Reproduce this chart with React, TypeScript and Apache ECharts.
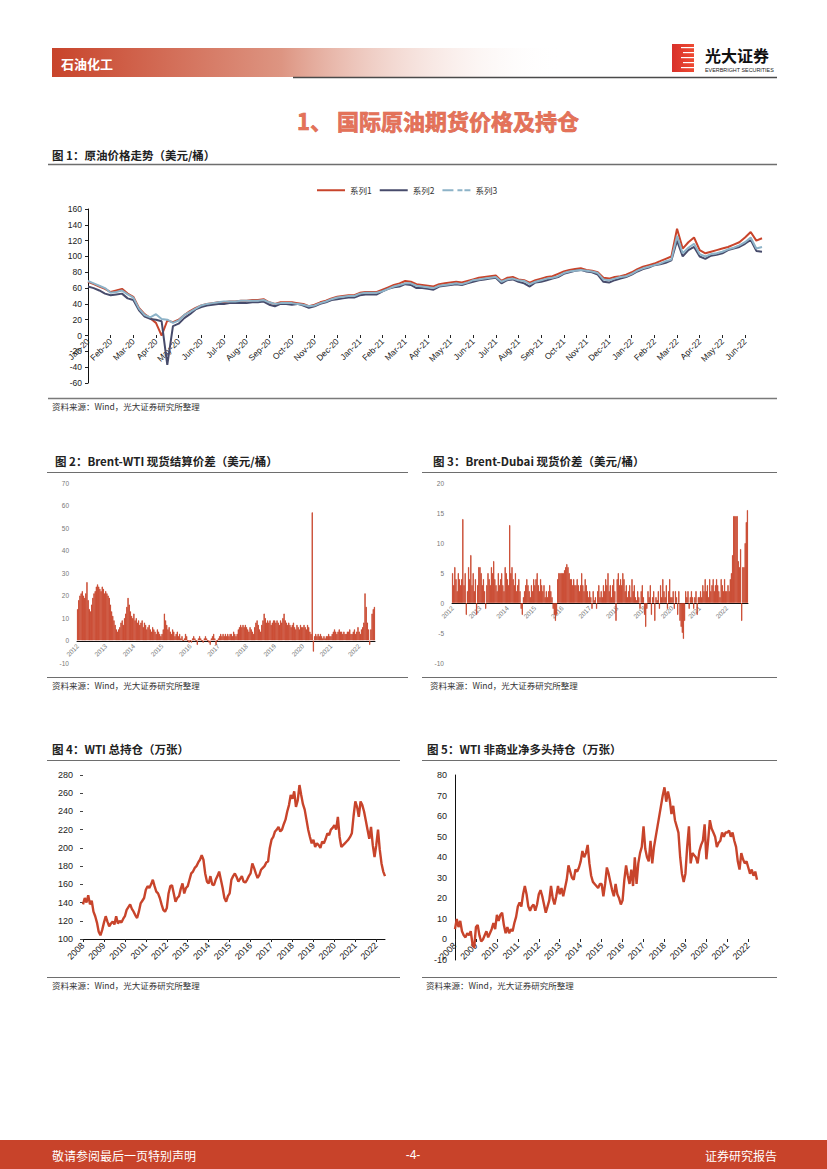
import React, { useEffect, useRef } from 'react';
import * as echarts from 'echarts';

const RED = '#c8442b';
const NAVY = '#474b6b';
const LIGHT = '#8db3c8';
const CJK = '"Noto Sans CJK SC", "Noto Sans", sans-serif';
const NUM = '"Liberation Sans", Arial, sans-serif';

// ---------- Chart 1: crude price (weekly points, 4 per month) ----------
const c1Months = [
  'Jan-20', 'Feb-20', 'Mar-20', 'Apr-20', 'May-20', 'Jun-20', 'Jul-20', 'Aug-20', 'Sep-20', 'Oct-20', 'Nov-20', 'Dec-20',
  'Jan-21', 'Feb-21', 'Mar-21', 'Apr-21', 'May-21', 'Jun-21', 'Jul-21', 'Aug-21', 'Sep-21', 'Oct-21', 'Nov-21', 'Dec-21',
  'Jan-22', 'Feb-22', 'Mar-22', 'Apr-22', 'May-22', 'Jun-22',
];
const c1Names = ['系列1', '系列2', '系列3'];
const c1Series1 = [
  68, 65, 62, 59, 55, 57, 59, 53, 49, 35, 27, 22, 16, 0, 19, 17, 20, 26, 31, 35, 38, 40, 41, 42,
  42, 43, 43, 44, 44, 45, 45, 46, 42, 40, 42, 42, 42, 41, 40, 37, 39, 42, 44, 47, 49, 50, 51, 51,
  54, 55, 55, 55, 58, 61, 64, 66, 69, 68, 65, 64, 63, 62, 65, 66, 67, 68, 67, 69, 71, 73, 74, 75,
  76, 69, 73, 74, 71, 70, 67, 70, 72, 74, 75, 78, 81, 83, 84, 85, 83, 82, 80, 73, 72, 74, 75, 77,
  80, 84, 87, 89, 91, 94, 97, 100, 135, 110, 118, 124, 108, 104, 106, 108, 110, 112, 115, 118, 124, 131, 120, 123,
];
const c1Series2 = [
  62, 60, 57, 53, 51, 52, 53, 47, 45, 32, 24, 21, 20, 18, -37, 12, 15, 22, 27, 33, 36, 38, 39, 40,
  40, 41, 41, 41, 41, 42, 42, 43, 39, 37, 40, 40, 39, 40, 38, 35, 37, 40, 42, 45, 46, 47, 48, 48,
  51, 52, 52, 52, 56, 59, 61, 62, 65, 64, 60, 60, 59, 58, 62, 63, 64, 65, 64, 66, 68, 70, 71, 72,
  73, 66, 70, 71, 68, 66, 62, 67, 68, 70, 72, 74, 78, 80, 82, 83, 81, 80, 77, 68, 67, 70, 72, 74,
  77, 81, 84, 86, 89, 90, 92, 95, 120, 100, 108, 112, 100, 97, 101, 102, 104, 108, 110, 112, 116, 121, 107, 106,
];
const c1Series3 = [
  69, 66, 63, 60, 54, 55, 57, 52, 48, 34, 26, 23, 27, 21, 20, 16, 19, 26, 30, 34, 38, 40, 41, 42,
  43, 43, 43, 44, 44, 44, 44, 45, 42, 40, 41, 41, 41, 40, 39, 37, 38, 41, 43, 46, 48, 49, 50, 50,
  53, 54, 54, 54, 56, 59, 62, 64, 66, 66, 63, 62, 61, 60, 63, 64, 65, 66, 65, 67, 70, 71, 72, 73,
  74, 68, 71, 72, 70, 69, 65, 68, 70, 72, 73, 75, 79, 81, 82, 83, 82, 81, 79, 71, 70, 72, 74, 75,
  78, 82, 85, 87, 89, 91, 94, 96, 126, 104, 111, 116, 103, 100, 103, 104, 106, 109, 111, 114, 118, 124, 110, 112,
];

// ---------- Chart 2: Brent-WTI spread (semi-monthly) ----------
const c23Years = ['2012', '2013', '2014', '2015', '2016', '2017', '2018', '2019', '2020', '2021', '2022'];
const c2Values = [
  14, 18, 20, 21, 22, 20, 19, 21, 26, 18, 14, 13, 16, 19, 21, 22, 24, 25, 24, 23, 22, 24, 23, 21,
  22, 21, 20, 19, 16, 13, 11, 9, 7, 5, 4, 5, 6, 8, 9, 7, 10, 12, 15, 19, 16, 13, 11, 10,
  12, 9, 10, 8, 9, 7, 8, 9, 6, 8, 7, 5, 6, 7, 5, 4, 6, 5, 4, 3, 5, 4, 3, 2,
  3, 5, 12, 9, 7, 5, 6, 4, 3, 5, 4, 2, 3, 4, 2, 3, 1, 2, 0, 1, 3, 2, 0, -1,
  0, -1, 1, 2, 1, 0, -2, 1, 2, 1, 0, -1, 1, 2, 1, 0, -1, -2, 1, 2, 3, 1, -2, 0,
  1, 2, 3, 2, 3, 2, 3, 2, 3, 2, 3, 3, 2, 4, 3, 2, 3, 5, 6, 7, 6, 7, 6, 7,
  6, 5, 4, 6, 5, 4, 3, 6, 8, 9, 7, 5, 4, 7, 9, 12, 10, 8, 9, 8, 9, 7, 8, 9,
  9, 8, 9, 8, 7, 9, 8, 10, 12, 9, 8, 7, 8, 7, 6, 7, 8, 6, 5, 7, 6, 5, 7, 6,
  6, 7, 6, 5, 7, 6, 4, 3, 57, -5, 2, 3, 2, 3, 2, 3, 2, 1, 2, 1, 2, 2, 3, 2,
  2, 3, 4, 5, 4, 3, 4, 5, 4, 4, 3, 4, 3, 3, 4, 4, 5, 3, 3, 4, 5, 3, 4, 6,
  4, 3, 5, 6, 8, 21, 15, 8, 5, -2, 5, 12, 14, 15,
];

// ---------- Chart 3: Brent-Dubai spread (semi-monthly) ----------
const c3Values = [
  5, 3, 6, 4, 2, 5, 4, 3, 4, 14, 3, 5, -2, 2, 6, 4, 8, 3, 5, 2, 4, -2, 3, 6,
  6, 5, 3, 4, 2, -1, 3, 5, 4, 3, 6, 5, 7, 4, 3, 2, 5, 3, 4, 5, 3, 2, 6, 5,
  4, 3, 13, 5, 6, 4, 3, 5, 2, 3, 4, 2, -1, -2, 1, 2, 3, 4, 3, 2, 1, 3, 2, 4,
  3, 4, 5, 3, 2, 4, 3, 2, 3, 1, 2, 1, 2, 3, 2, 1, -1, -2, -3, -2, 4, 5, 5, 5,
  5, 5, 5.5, 6, 6.5, 6, 5, 4, 4, 3, 4, 3, 3, 4, 3, 2, 3, 5, 3, 2, 4, 3, 2, 1,
  2, 1, -1, 2, 0.5, 1, -1, 2, 3, 1, 2, 1, 3, 2, 4, 3, 5, 2, 3, 1, 3, 4, 2, -3,
  4, 5, 3, 4, 3, 5, 4, 2, 3, 1, 2, 3, 1, 4, 2, 3, 1, 0.5, 2, 1, -1, 2, 3, 1,
  -2, -4, -1, 2, 1, 3, -2, 1, 2, -3, 1, 0.5, 2, -1, 3, 1, 4, 2, 1, 3, -1, 2, 4, 1,
  1, 2, -1, 2, 1, -2, 2, -3, -4, -5, -6, -3, 2, 1, 2, -1, 1, 2, 1, -1, 1, 2, -2, 1,
  1, 2, 1, 3, 2, 4, 2, 3, 1, 4, 2, 3, 4, 2, 3, 4, 3, 2, 1, 4, 3, 2, 4, 2,
  2, 3, 2, 4, 5, 8, 14.5, 14.5, 14.5, 14.5, 7, 6, 9, -3, 6, 6, 10, 13.5, 15.5,
];

// ---------- Chart 4 & 5: WTI open interest (monthly) ----------
const c45Years = ['2008', '2009', '2010', '2011', '2012', '2013', '2014', '2015', '2016', '2017', '2018', '2019', '2020', '2021', '2022'];
const c4Values = [
  138, 145, 140, 148, 138, 142, 130, 125, 118, 108, 104, 110,
  118, 125, 119, 114, 117, 119, 116, 125, 117, 120, 118, 122,
  125, 132, 135, 138, 133, 130, 126, 123, 130, 139, 142, 145,
  154, 158, 156, 160, 165, 158, 152, 150, 145, 138, 132, 130,
  134, 150, 158, 159, 150, 141, 145, 147, 155, 161, 150, 156,
  158, 165, 172, 174, 178, 180, 184, 187, 192, 187, 172, 163,
  161, 169, 160, 159, 165, 169, 174, 165, 156, 145, 141, 147,
  150, 165, 169, 172, 168, 163, 166, 169, 163, 162, 165, 169,
  172, 183, 178, 172, 167, 170, 176, 178, 180, 184, 185, 200,
  209, 212, 218, 220, 223, 218, 220, 226, 231, 240, 247, 258,
  254, 262, 245, 252, 269, 258, 248, 242, 231, 220, 212, 205,
  209, 201, 205, 203, 200, 207, 205, 210, 216, 214, 220, 222,
  225, 220, 234, 212, 201, 203, 205, 207, 209, 212, 216, 235,
  251, 245, 234, 251, 247, 240, 230, 220, 210, 223, 203, 190,
  203, 220, 198, 183, 174, 169,
];
const c5Values = [
  5, 10, 6, 9, 4, 2, 1, 3, 2, 4, -2, -4,
  6, 7, 2, -1, 0, 2, 4, 1, 3, 5, 8, 5,
  12, 9, 12, 13, 7, 3, 6, 3, 5, 4, 8, 11,
  16, 18, 16, 22, 26, 22, 16, 14, 16, 17, 14, 17,
  22, 24, 21, 17, 13, 16, 19, 26, 20, 17, 21, 26,
  22, 25, 21, 25, 29, 36, 33, 30, 29, 34, 33, 35,
  38, 43, 40, 42, 46, 37, 31, 28, 27, 26, 25, 27,
  27, 21, 27, 35, 32, 28, 24, 21, 27, 22, 20, 17,
  19, 29, 36, 31, 27, 34, 26, 40, 27, 37, 42, 45,
  55, 44, 40, 38, 48, 37, 45, 50, 55, 60, 65, 70,
  74, 67, 72, 68, 61, 65, 58, 55, 52, 40, 32, 28,
  32, 45, 55, 37, 42, 41, 40, 37, 43, 46, 48, 56,
  39, 48, 58, 54, 52, 50, 45, 47, 48, 52, 50, 52,
  52, 53, 50, 52, 48, 45, 38, 34, 42, 39, 37, 38,
  35, 32, 34, 31, 33, 29,
];

function buildCats(labels: string[], perGroup: number, total: number): string[] {
  const out: string[] = [];
  for (let i = 0; i < total; i++) {
    const g = Math.floor(i / perGroup);
    out.push(labels[g] + '|' + (i % perGroup));
  }
  return out;
}
const firstPart = (v: string) => String(v).split('|')[0];

const txt = (x: number, y: number, text: string, size: number, opts: any = {}) => ({
  type: 'text',
  x,
  y,
  silent: true,
  style: {
    text,
    fontSize: size,
    fontFamily: opts.family || CJK,
    fontWeight: opts.weight || 'normal',
    fill: opts.fill || '#222',
    align: opts.align || 'left',
    verticalAlign: 'middle',
    stroke: opts.stroke,
    lineWidth: opts.lineWidth,
  },
});
const hline = (x1: number, x2: number, y: number, color = '#6e6e6e', w = 1.2) => ({
  type: 'line',
  silent: true,
  shape: { x1, y1: y, x2, y2: y },
  style: { stroke: color, lineWidth: w },
});

export default function App() {
  const ref = useRef<HTMLDivElement>(null);
  useEffect(() => {
    if (!ref.current) return;
    const chart = echarts.init(ref.current, undefined, { renderer: 'svg' });

    const c1Cats = buildCats(c1Months, 4, c1Series1.length);
    const c2Cats = buildCats(c23Years, 24, c2Values.length);
    const c3Cats = buildCats(c23Years, 24, c3Values.length);
    const c4Cats = buildCats(c45Years, 12, c4Values.length);
    const c5Cats = buildCats(c45Years, 12, c5Values.length);

    const logoStripes: any[] = [];
    [47, 52, 57, 62, 67].forEach((yy, i) => {
      logoStripes.push({
        type: 'rect',
        silent: true,
        shape: { x: 681 + (i % 2) * 2, y: yy, width: 14 - (i % 2) * 2, height: 1.2 },
        style: { fill: '#ffffff' },
      });
    });

    const graphic: any[] = [
      {
        type: 'rect',
        silent: true,
        shape: { x: 52, y: 48, width: 510, height: 29 },
        style: {
          fill: new echarts.graphic.LinearGradient(0, 0, 1, 0, [
            { offset: 0, color: '#c8442b' },
            { offset: 0.45, color: '#dd9582' },
            { offset: 1, color: 'rgba(255,255,255,0)' },
          ]),
        },
      },
      txt(61, 63, '石油化工', 13, { weight: 'bold', fill: '#ffffff' }),
      hline(293, 777, 77.5, '#4a4a4a', 1.5),
      {
        type: 'rect',
        silent: true,
        shape: { x: 672, y: 44, width: 22, height: 28 },
        style: {
          fill: new echarts.graphic.LinearGradient(0, 0, 1, 0, [
            { offset: 0, color: '#d8302a' },
            { offset: 1, color: '#ee4b33' },
          ]),
        },
      },
      ...logoStripes,
      txt(705, 54.5, '光大证券', 16, { weight: 'bold', fill: '#111' }),
      txt(705, 70, 'EVERBRIGHT SECURITIES', 5.4, { family: NUM, fill: '#222' }),
      txt(297, 120, '1、 国际原油期货价格及持仓', 22, { weight: 'bold', fill: '#e47259', stroke: '#d2553a', lineWidth: 0.6 }),
      txt(52, 155, '图 1：原油价格走势（美元/桶）', 11.5, { weight: 'bold', fill: '#222' }),
      hline(48, 777, 164.5, '#6e6e6e', 1.4),
      hline(48, 777, 398.5, '#7a7a7a', 1.4),
      txt(52, 406, '资料来源：Wind，光大证券研究所整理', 8.5, { fill: '#333' }),
      txt(55, 461, '图 2：Brent-WTI 现货结算价差（美元/桶）', 11.5, { weight: 'bold', fill: '#222' }),
      hline(47, 408, 472.5, '#6e6e6e', 1.2),
      hline(47, 408, 677.5, '#6e6e6e', 1.2),
      txt(52, 685, '资料来源：Wind，光大证券研究所整理', 8.5, { fill: '#333' }),
      txt(433, 461, '图 3：Brent-Dubai 现货价差（美元/桶）', 11.5, { weight: 'bold', fill: '#222' }),
      hline(422, 777, 472.5, '#6e6e6e', 1.2),
      hline(422, 777, 677.5, '#6e6e6e', 1.2),
      txt(430, 685, '资料来源：Wind，光大证券研究所整理', 8.5, { fill: '#333' }),
      txt(52, 749, '图 4：WTI 总持仓（万张）', 11.5, { weight: 'bold', fill: '#222' }),
      hline(47, 400, 760.5, '#6e6e6e', 1.2),
      hline(47, 400, 977.5, '#6e6e6e', 1.2),
      txt(52, 985, '资料来源：Wind，光大证券研究所整理', 8.5, { fill: '#333' }),
      txt(427, 749, '图 5：WTI 非商业净多头持仓（万张）', 11.5, { weight: 'bold', fill: '#222' }),
      hline(422, 777, 760.5, '#6e6e6e', 1.2),
      hline(422, 777, 977.5, '#6e6e6e', 1.2),
      txt(426, 985, '资料来源：Wind，光大证券研究所整理', 8.5, { fill: '#333' }),
      {
        type: 'rect',
        silent: true,
        shape: { x: 0, y: 1140, width: 827, height: 29 },
        style: { fill: '#c8432a' },
      },
      txt(52, 1155, '敬请参阅最后一页特别声明', 12, { fill: '#ffffff' }),
      txt(413, 1155, '-4-', 12, { fill: '#ffffff', align: 'center', family: NUM }),
      txt(777, 1155, '证券研究报告', 12, { fill: '#ffffff', align: 'right' }),
    ];

    const smallLabel = { fontFamily: NUM, fontSize: 6.5, color: '#777' };
    const midLabel = { fontFamily: NUM, fontSize: 8.5, color: '#222' };
    const hiddenX = (gridIndex: number, data: string[], boundaryGap = false) => ({
      type: 'category', gridIndex, data, boundaryGap,
      axisLine: { show: false }, axisTick: { show: false }, axisLabel: { show: false },
    });
    const hiddenY = (gridIndex: number) => ({
      type: 'value', gridIndex, min: 0, max: 1, show: false,
    });

    const option: any = {
      animation: false,
      backgroundColor: '#ffffff',
      graphic,
      legend: {
        data: [
          { name: '系列1', icon: 'rect' },
          { name: '系列2', icon: 'rect' },
          { name: '系列3', icon: 'path://M0 0H11V2H0Z M15 0H20V2H15Z M22 0H28V2H22Z' },
        ],
        left: 312,
        top: 181,
        itemWidth: 28,
        itemHeight: 2,
        itemGap: 8,
        textStyle: { fontFamily: CJK, fontSize: 8.5, color: '#333' },
      },
      grid: [
        { left: 88, top: 209, width: 674, height: 174 },
        { left: 77, top: 483, width: 298, height: 180 },
        { left: 452, top: 483, width: 296, height: 180 },
        { left: 83, top: 775, width: 302, height: 164 },
        { left: 455, top: 775, width: 302, height: 185 },
        { left: 88, top: 209, width: 674, height: 126 },
        { left: 77, top: 483, width: 298, height: 158 },
        { left: 452, top: 483, width: 296, height: 120 },
        { left: 455, top: 775, width: 302, height: 164 },
      ],
      xAxis: [
        hiddenX(0, c1Cats),
        hiddenX(1, c2Cats, true),
        hiddenX(2, c3Cats, true),
        {
          type: 'category', gridIndex: 3, data: c4Cats, boundaryGap: false,
          axisLine: { show: true, lineStyle: { color: '#111', width: 1 } },
          axisTick: { show: true, interval: 11, length: 3, lineStyle: { color: '#222' } },
          axisLabel: { ...midLabel, fontSize: 9, interval: 11, rotate: 45, margin: 5, formatter: firstPart },
        },
        hiddenX(4, c5Cats),
        {
          type: 'category', gridIndex: 5, data: c1Cats, boundaryGap: false,
          axisLine: { show: false },
          axisTick: { show: true, interval: 3, length: 3, lineStyle: { color: '#222' } },
          axisLabel: { ...midLabel, interval: 3, rotate: 45, margin: 5, formatter: firstPart },
        },
        {
          type: 'category', gridIndex: 6, data: c2Cats,
          axisLine: { show: true, lineStyle: { color: '#111', width: 1 } },
          axisTick: { show: false },
          axisLabel: { ...smallLabel, interval: 23, rotate: 45, margin: 4, formatter: firstPart },
        },
        {
          type: 'category', gridIndex: 7, data: c3Cats,
          axisLine: { show: true, lineStyle: { color: '#111', width: 1 } },
          axisTick: { show: false },
          axisLabel: { ...smallLabel, interval: 23, rotate: 45, margin: 4, formatter: firstPart },
        },
        {
          type: 'category', gridIndex: 8, data: c5Cats, boundaryGap: false,
          axisLine: { show: false },
          axisTick: { show: true, interval: 11, length: 3, lineStyle: { color: '#222' } },
          axisLabel: { ...midLabel, fontSize: 9, interval: 11, rotate: 45, margin: 5, formatter: firstPart },
        },
      ],
      yAxis: [
        {
          type: 'value', gridIndex: 0, min: -60, max: 160, interval: 20,
          axisLine: { show: true, lineStyle: { color: '#111' } },
          axisTick: { show: true, length: 3, lineStyle: { color: '#222' } },
          splitLine: { show: false },
          axisLabel: { ...midLabel, margin: 6 },
        },
        {
          type: 'value', gridIndex: 1, min: -10, max: 70, interval: 10,
          axisLine: { show: false }, axisTick: { show: false }, splitLine: { show: false },
          axisLabel: { ...smallLabel, margin: 8 },
        },
        {
          type: 'value', gridIndex: 2, min: -10, max: 20, interval: 5,
          axisLine: { show: false }, axisTick: { show: false }, splitLine: { show: false },
          axisLabel: { ...smallLabel, margin: 8 },
        },
        {
          type: 'value', gridIndex: 3, min: 100, max: 280, interval: 20,
          axisLine: { show: false },
          axisTick: { show: true, length: 3, lineStyle: { color: '#444' } },
          splitLine: { show: false },
          axisLabel: { ...midLabel, fontSize: 9, margin: 10 },
        },
        {
          type: 'value', gridIndex: 4, min: -10, max: 80, interval: 10,
          axisLine: { show: true, lineStyle: { color: '#111' } },
          axisTick: { show: false },
          splitLine: { show: false },
          axisLabel: { ...midLabel, fontSize: 9, margin: 8 },
        },
        hiddenY(5),
        hiddenY(6),
        hiddenY(7),
        hiddenY(8),
      ],
      series: [
        {
          name: c1Names[0], type: 'line', xAxisIndex: 0, yAxisIndex: 0, data: c1Series1,
          symbol: 'none', lineStyle: { color: RED, width: 2 }, itemStyle: { color: RED },
        },
        {
          name: c1Names[1], type: 'line', xAxisIndex: 0, yAxisIndex: 0, data: c1Series2,
          symbol: 'none', lineStyle: { color: NAVY, width: 2 }, itemStyle: { color: NAVY },
        },
        {
          name: c1Names[2], type: 'line', xAxisIndex: 0, yAxisIndex: 0, data: c1Series3,
          symbol: 'none', lineStyle: { color: LIGHT, width: 2 }, itemStyle: { color: LIGHT },
        },
        {
          type: 'bar', xAxisIndex: 1, yAxisIndex: 1, data: c2Values,
          barCategoryGap: '0%', itemStyle: { color: RED, borderColor: RED, borderWidth: 0.8 },
        },
        {
          type: 'bar', xAxisIndex: 2, yAxisIndex: 2, data: c3Values,
          barCategoryGap: '0%', itemStyle: { color: RED, borderColor: RED, borderWidth: 0.8 },
        },
        {
          type: 'line', xAxisIndex: 3, yAxisIndex: 3, data: c4Values,
          symbol: 'none', lineStyle: { color: RED, width: 2.4 },
        },
        {
          type: 'line', xAxisIndex: 4, yAxisIndex: 4, data: c5Values,
          symbol: 'none', lineStyle: { color: RED, width: 2.4 },
        },
      ],
    };
    chart.setOption(option);
    return () => chart.dispose();
  }, []);

  return (
    <div
      ref={ref}
      style={{ position: 'absolute', left: 0, top: 0, width: 827, height: 1169, background: '#fff' }}
    />
  );
}
